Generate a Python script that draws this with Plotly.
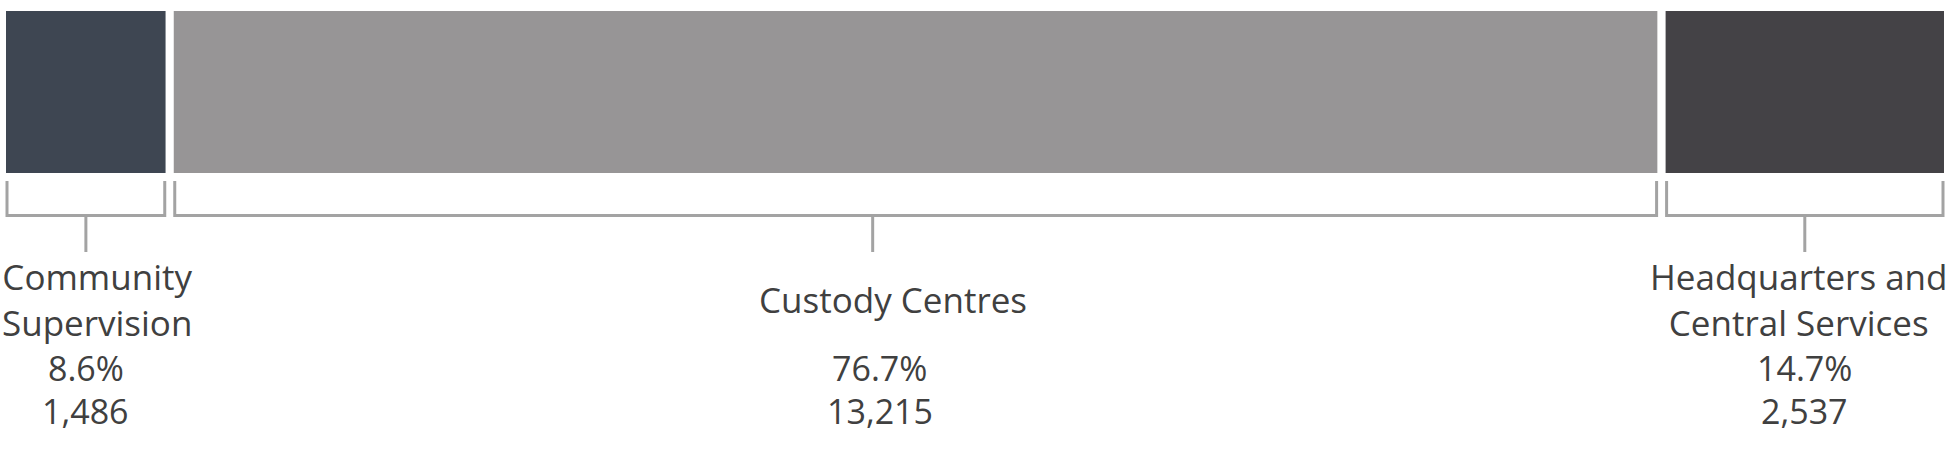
import plotly.graph_objects as go

# ---- data ----
categories = ["Community Supervision", "Custody Centres", "Headquarters and Central Services"]
name_labels = ["Community<br>Supervision", "Custody Centres", "Headquarters and<br>Central Services"]
values = [1486, 13215, 2537]
percent_labels = ["8.6%", "76.7%", "14.7%"]
value_labels = ["1,486", "13,215", "2,537"]

# ---- styles ----
bar_colors = ["#3E4652", "#979596", "#444246"]
bracket_color = "#A3A3A3"
text_color = "#404040"
font_family = "Open Sans, Lato, sans-serif"
name_size = 35
num_size = 34

W, H = 1951, 451
total = sum(values)
px0, px1 = 2, 1948               # pixel span of the stacked bar (incl. white borders)
scale = total / (px1 - px0)      # value units per pixel
x_range = [-px0 * scale, (W - px0) * scale]

fig = go.Figure()
base = 0
for cat, v, c in zip(categories, values, bar_colors):
    fig.add_trace(go.Bar(
        x=[v], y=[92], base=[base], orientation="h", width=170,
        marker=dict(color=c, line=dict(color="white", width=8)),
        name=cat, showlegend=False, hoverinfo="skip"))
    base += v

# brackets and labels
stem_nudge_px = [0, -43, 0]
name_nudge_px = [11, 20, -6]
num_nudge_px = [0, 7, 0]
inset = 5 * scale
start = 0
for i, v in enumerate(values):
    end = start + v
    xl, xr = start + inset, end - inset
    xc = (start + end) / 2 + stem_nudge_px[i] * scale
    fig.add_shape(type="path",
                  path=f"M {xl} 181 L {xl} 215.5 L {xr} 215.5 L {xr} 181",
                  line=dict(color=bracket_color, width=3), xref="x", yref="y")
    fig.add_shape(type="line", x0=xc, x1=xc, y0=215.5, y1=252,
                  line=dict(color=bracket_color, width=3), xref="x", yref="y")
    xn = (start + end) / 2 + (stem_nudge_px[i] + name_nudge_px[i]) * scale
    fig.add_annotation(x=xn, y=299, text=name_labels[i], showarrow=False,
                       xanchor="center", yanchor="middle", align="center", borderpad=0,
                       font=dict(family=font_family, size=name_size, color=text_color))
    xnum = xc + num_nudge_px[i] * scale
    fig.add_annotation(x=xnum, y=368, text=percent_labels[i], showarrow=False,
                       xanchor="center", yanchor="middle", borderpad=0,
                       font=dict(family=font_family, size=num_size, color=text_color))
    fig.add_annotation(x=xnum, y=411, text=value_labels[i], showarrow=False,
                       xanchor="center", yanchor="middle", borderpad=0,
                       font=dict(family=font_family, size=num_size, color=text_color))
    start = end

fig.update_layout(
    width=W, height=H, margin=dict(l=0, r=0, t=0, b=0),
    paper_bgcolor="white", plot_bgcolor="white", barmode="overlay",
    xaxis=dict(range=x_range, visible=False, fixedrange=True),
    yaxis=dict(range=[H, 0], visible=False, fixedrange=True),
)
fig.write_html("out.html", config={"displayModeBar": False},
               post_script="document.body.style.margin='0';document.body.style.overflow='hidden';")
